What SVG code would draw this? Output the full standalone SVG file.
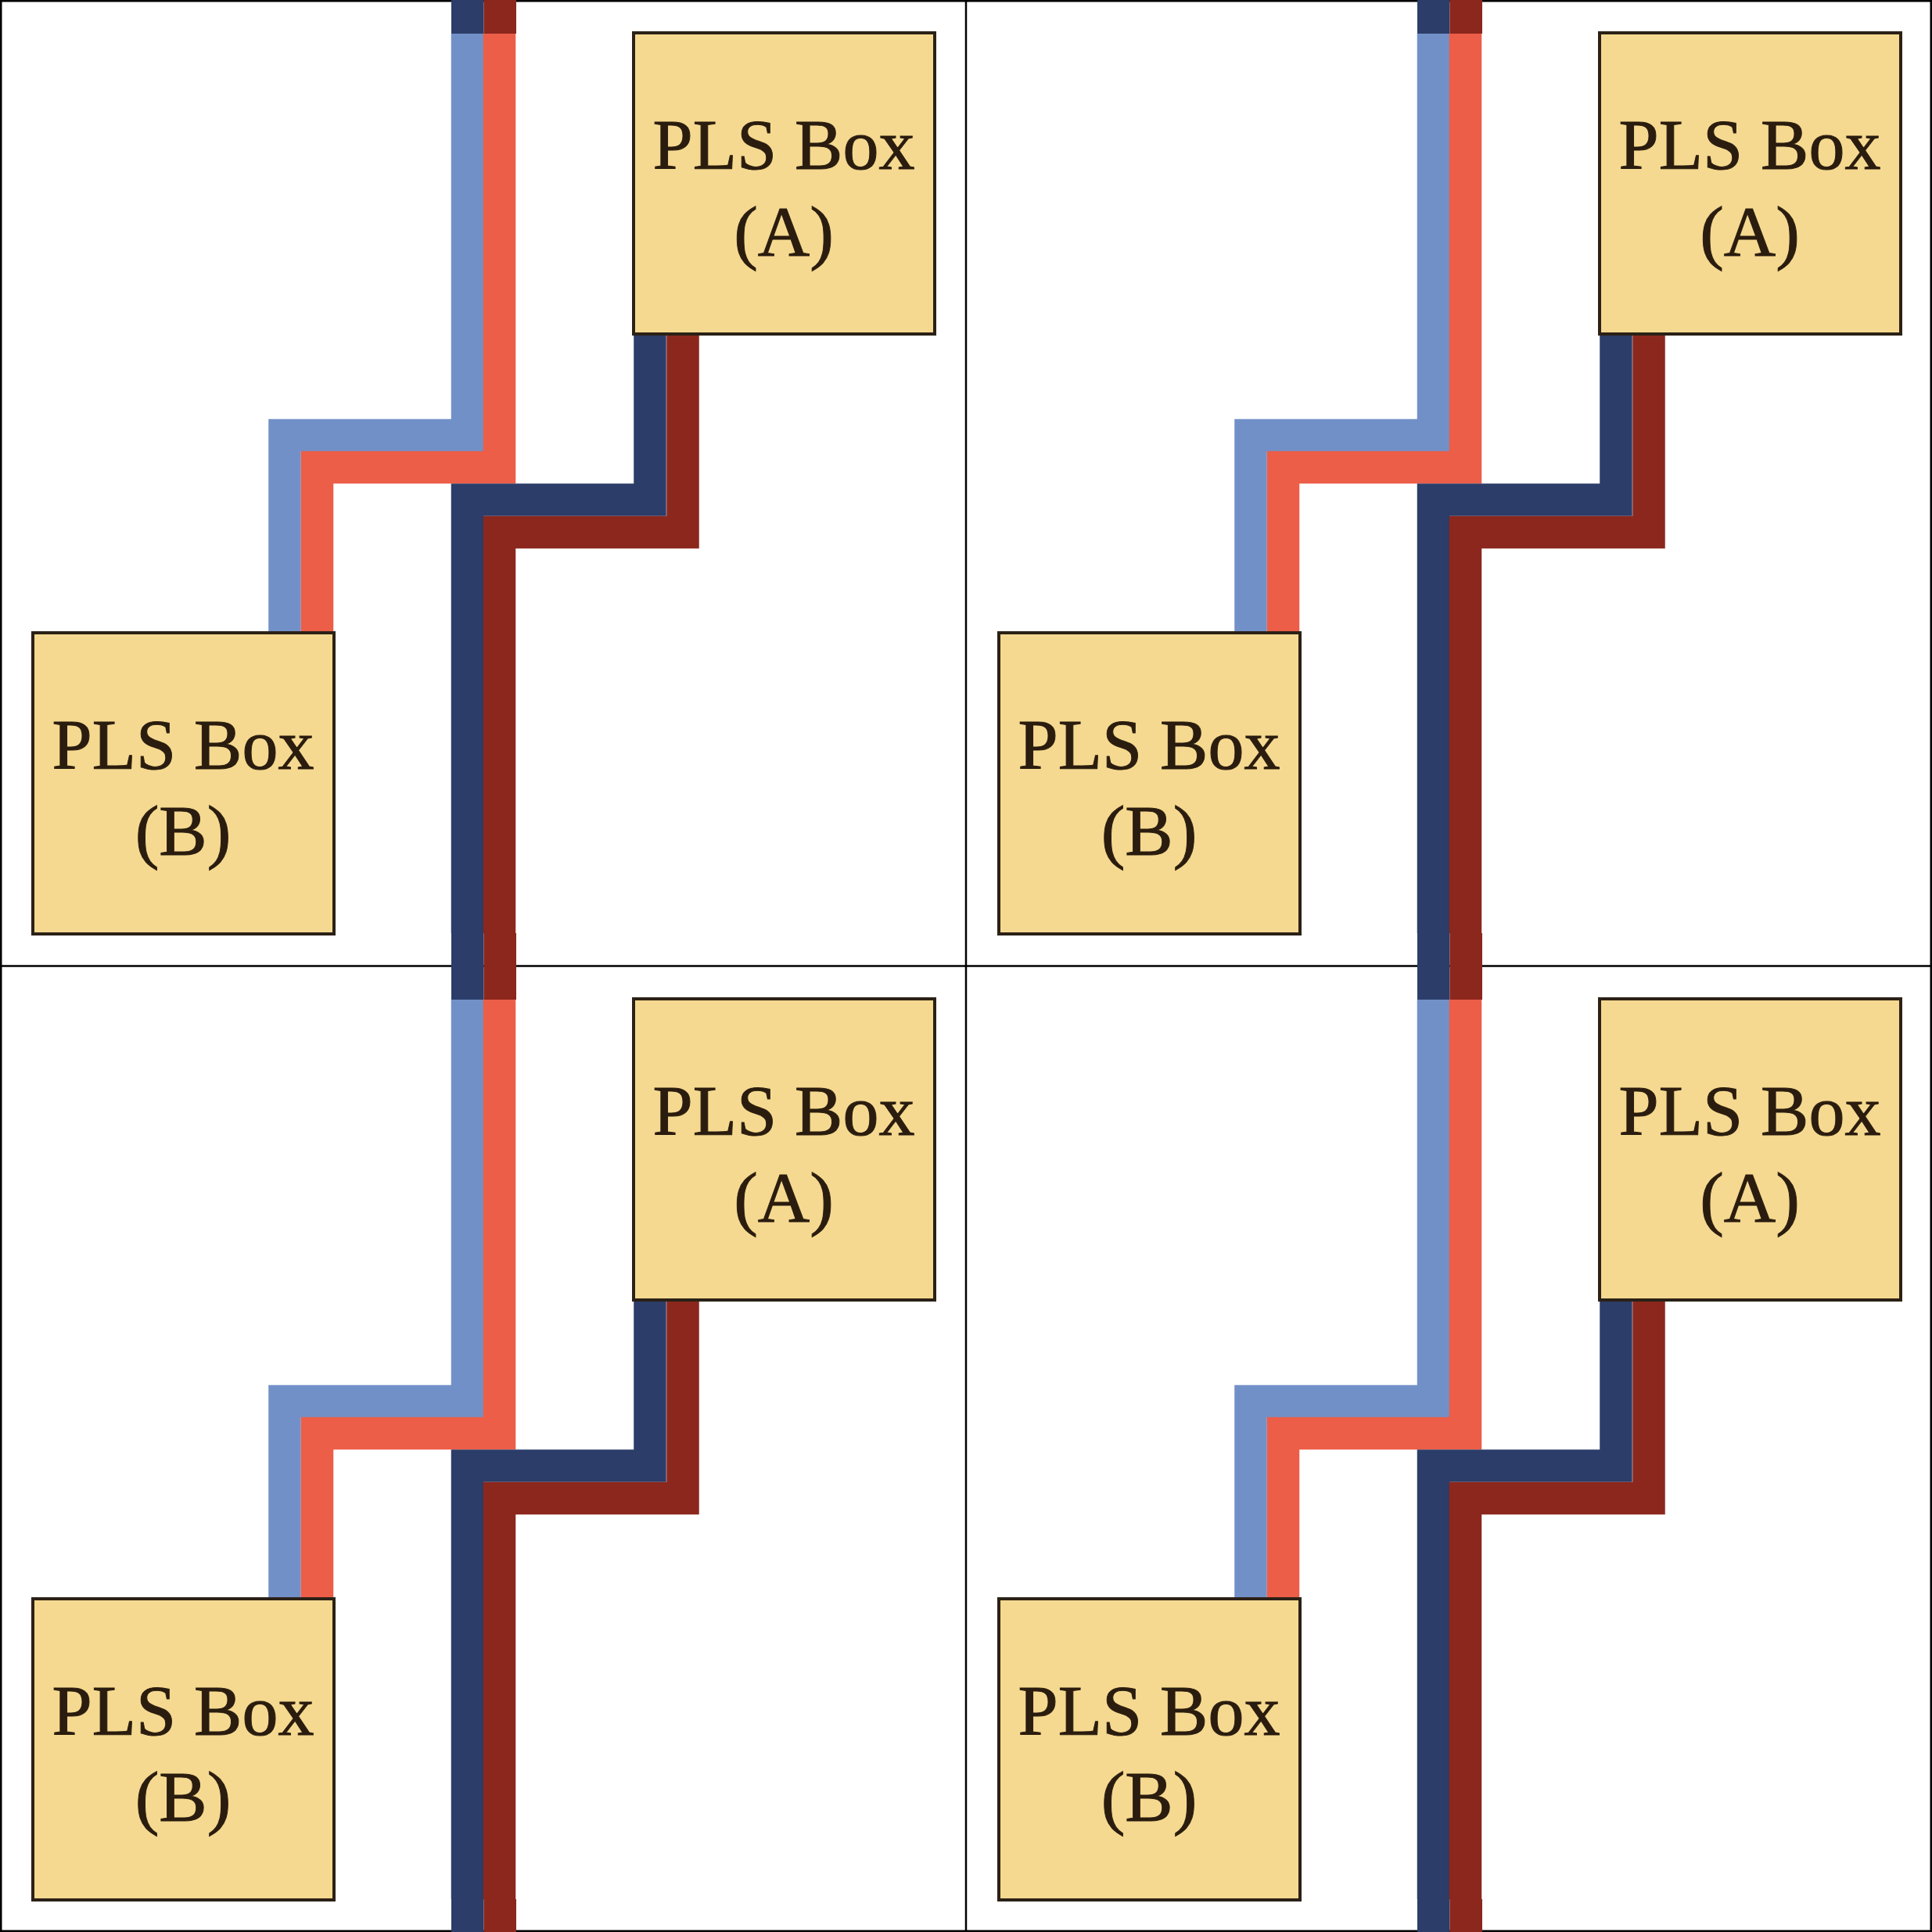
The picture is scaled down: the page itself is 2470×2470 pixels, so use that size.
<svg xmlns="http://www.w3.org/2000/svg" width="2470" height="2470" viewBox="0 0 2470 2470">
<style>
.box{fill:#f5d990;stroke:#2b2116;stroke-width:4}
.lbl{font-family:"Liberation Serif","Times New Roman",serif;font-size:92px;fill:#2a1c0e;stroke:#2a1c0e;stroke-width:1;text-anchor:middle}
.w{fill:none;stroke-width:41.5;stroke-linejoin:miter;stroke-linecap:butt}
.lb{stroke:#7290c8}
.rd{stroke:#ec5e47}
.db{stroke:#2b3d68}
.dr{stroke:#8b271d}
</style>
<defs>
<g id="wires">
<path class="w lb" d="M364,809 V556.5 H597.5 V43"/>
<path class="w rd" d="M405.5,809 V597.5 H638.5 V43"/>
<path class="w db" d="M831,427 V639 H597.5 V1193"/>
<path class="w dr" d="M873,427 V680.5 H638.5 V1193"/>
<rect x="577" y="0" width="41.5" height="43" fill="#2b3d68"/>
<rect x="618.5" y="0" width="41.5" height="43" fill="#8b271d"/>
<rect x="577" y="1193" width="41.5" height="42" fill="#2b3d68"/>
<rect x="618.5" y="1193" width="41.5" height="42" fill="#8b271d"/>
</g>
</defs>
<rect x="0" y="0" width="2470" height="2470" fill="#ffffff"/>
<g id="grid" stroke="#000" stroke-width="2.5" fill="none">
<rect x="1.25" y="1.25" width="2467.5" height="2467.5"/>
<line x1="1235" y1="0" x2="1235" y2="2470"/>
<line x1="0" y1="1235" x2="2470" y2="1235"/>
</g>
<g id="connectors">
<use href="#wires" transform="translate(0,0)"/>
<use href="#wires" transform="translate(1235,0)"/>
<use href="#wires" transform="translate(0,1235)"/>
<use href="#wires" transform="translate(1235,1235)"/>
</g>
<g id="boxA-1"><rect class="box" x="810" y="42" width="385" height="385"/><text class="lbl" x="1002" y="216">PLS Box</text><text class="lbl" x="1002" y="327">(A)</text></g>
<g id="boxB-1"><rect class="box" x="42" y="809" width="385" height="385"/><text class="lbl" x="234" y="983">PLS Box</text><text class="lbl" x="234" y="1093">(B)</text></g>
<g id="boxA-2"><rect class="box" x="2045" y="42" width="385" height="385"/><text class="lbl" x="2237" y="216">PLS Box</text><text class="lbl" x="2237" y="327">(A)</text></g>
<g id="boxB-2"><rect class="box" x="1277" y="809" width="385" height="385"/><text class="lbl" x="1469" y="983">PLS Box</text><text class="lbl" x="1469" y="1093">(B)</text></g>
<g id="boxA-3"><rect class="box" x="810" y="1277" width="385" height="385"/><text class="lbl" x="1002" y="1451">PLS Box</text><text class="lbl" x="1002" y="1562">(A)</text></g>
<g id="boxB-3"><rect class="box" x="42" y="2044" width="385" height="385"/><text class="lbl" x="234" y="2218">PLS Box</text><text class="lbl" x="234" y="2328">(B)</text></g>
<g id="boxA-4"><rect class="box" x="2045" y="1277" width="385" height="385"/><text class="lbl" x="2237" y="1451">PLS Box</text><text class="lbl" x="2237" y="1562">(A)</text></g>
<g id="boxB-4"><rect class="box" x="1277" y="2044" width="385" height="385"/><text class="lbl" x="1469" y="2218">PLS Box</text><text class="lbl" x="1469" y="2328">(B)</text></g>
</svg>
